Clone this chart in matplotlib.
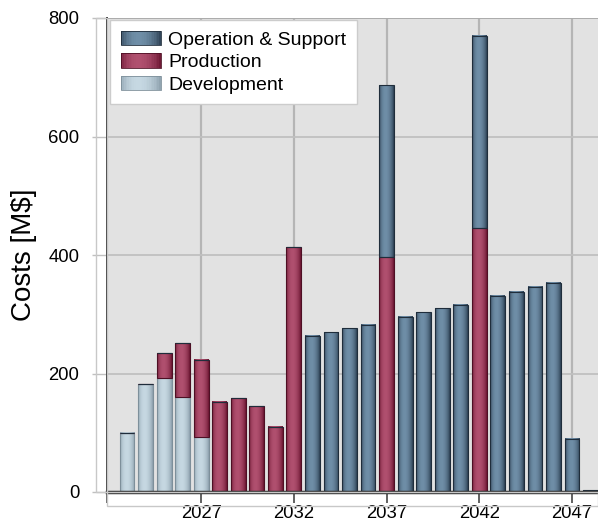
import numpy as np
import matplotlib
matplotlib.use("Agg")
import matplotlib.pyplot as plt
from matplotlib.colors import LinearSegmentedColormap
from matplotlib.patches import Rectangle
from matplotlib.legend_handler import HandlerBase

plt.rcParams['font.family'] = ['Liberation Sans', 'DejaVu Sans']

years = list(range(2023, 2049))
development = [100, 182, 193, 160, 92, 0, 0, 0, 0, 0, 0, 0, 0,
               0, 0, 0, 0, 0, 0, 0, 0, 0, 0, 0, 0, 0]
production = [0, 0, 42, 91, 130, 152, 158, 145, 110, 413, 0, 0, 0,
              0, 397, 0, 0, 0, 0, 445, 0, 0, 0, 0, 0, 0]
operation = [0, 0, 0, 0, 0, 0, 0, 0, 0, 0, 264, 270, 276,
             282, 290, 296, 303, 310, 316, 325, 331, 338, 346, 353, 90, 3]
xticks = [2027, 2032, 2037, 2042, 2047]
yticks = [0, 200, 400, 600, 800]
legend_order = ["Operation & Support", "Production", "Development"]

# (edge shade, highlight, outline)
styles = {
    "Development": ("#8a9daa", "#c6d8e2", "#7d8f9a"),
    "Production": ("#68132f", "#b0506f", "#4e0f24"),
    "Operation & Support": ("#2a3d50", "#6f8ea7", "#1f2d3b"),
}

t = np.linspace(0, 1, 64)
profile = np.sin(np.pi * (t ** 0.85)) ** 0.7


def make_cmap(name):
    edge, light, _ = styles[name]
    return LinearSegmentedColormap.from_list(name, [edge, light])


def shade_bars(ax, bars, cmap):
    """fill each bar with a horizontal cylinder-like gradient"""
    grad = profile[np.newaxis, :]
    for b in bars:
        if b.get_height() <= 0:
            continue
        x0, y0 = b.get_x(), b.get_y()
        ax.imshow(grad, extent=[x0, x0 + b.get_width(), y0, y0 + b.get_height()],
                  aspect='auto', cmap=cmap, vmin=0, vmax=1, zorder=2,
                  interpolation='bilinear')


class GradientHandler(HandlerBase):
    def __init__(self, name):
        super().__init__()
        self.name = name

    def create_artists(self, legend, orig_handle, xdescent, ydescent, width, height,
                       fontsize, trans):
        cmap = make_cmap(self.name)
        n = 24
        arts = []
        for i in range(n):
            c = cmap(np.interp((i + 0.5) / n, t, profile))
            arts.append(Rectangle((-xdescent + width * i / n, -ydescent), width / n + 0.3,
                                  height, facecolor=c, edgecolor='none', transform=trans))
        arts.append(Rectangle((-xdescent, -ydescent), width, height, facecolor='none',
                              edgecolor=styles[self.name][2], linewidth=0.6, transform=trans))
        return arts


fig = plt.figure(figsize=(5.98, 5.21), dpi=100)
W, H = 598, 521
ax = fig.add_axes([107 / W, 29 / H, 491 / W, 474 / H])
ax.set_facecolor("#e2e2e2")

x = np.array(years)
dev = np.array(development)
prod = np.array(production)
ops = np.array(operation)
series = [("Development", dev, np.zeros_like(dev)),
          ("Production", prod, dev),
          ("Operation & Support", ops, dev + prod)]

for name, vals, bottom in series:
    bars = ax.bar(x, vals, bottom=bottom, width=0.8, facecolor='none',
                  edgecolor=styles[name][2], linewidth=0.8, zorder=3)
    shade_bars(ax, bars, make_cmap(name))

ax.set_xlim(2021.92, 2048.4)
ax.set_ylim(0, 800)

ax.set_xticks(xticks)
ax.set_xticks([2021.92], minor=True)
ax.set_yticks(yticks)
ax.grid(axis='x', which='major', color="#b5b5b5", linewidth=1.6, zorder=1)
ax.grid(axis='y', color="#c0c0c0", linewidth=1.3, zorder=1)
ax.set_axisbelow(True)

for s in ['top', 'right']:
    ax.spines[s].set_visible(False)
ax.spines['left'].set_color("#333333")
ax.spines['left'].set_linewidth(1.4)
ax.spines['left'].set_zorder(4)
ax.spines['bottom'].set_color("#333333")
ax.spines['bottom'].set_linewidth(2.5)
ax.spines['bottom'].set_zorder(4)
ax.axhline(800, color="#aaaaaa", linewidth=1.3, zorder=1)

ax.tick_params(axis='y', length=11, width=1, color="#c0c0c0", labelsize=13.3, pad=9)
ax.tick_params(axis='x', which='both', length=8, width=1.3, color="#555555",
               labelsize=13.3, pad=1.5)
ax.set_ylabel("Costs [M$]", fontsize=20, labelpad=8)

# light frames around the axis areas
fig.patches.append(Rectangle((96 / W, 29 / H), 11 / W, 474 / H, transform=fig.transFigure,
                             fill=False, edgecolor="#c8c8c8", linewidth=1))
fig.patches.append(Rectangle((107 / W, 15 / H), 491 / W, 14 / H, transform=fig.transFigure,
                             fill=False, edgecolor="#c8c8c8", linewidth=1))

handles = [Rectangle((0, 0), 1, 1) for _ in legend_order]
leg = ax.legend(handles, legend_order,
                handler_map={h: GradientHandler(n) for h, n in zip(handles, legend_order)},
                loc='upper left', bbox_to_anchor=(0.006, 0.996), borderaxespad=0,
                fontsize=14, fancybox=False, framealpha=1, edgecolor="#cccccc",
                handlelength=2.05, handleheight=0.8, labelspacing=0.22,
                borderpad=0.55, handletextpad=0.4)
leg.set_zorder(5)
leg.get_frame().set_linewidth(1)

fig.savefig("out.png", dpi=100)
